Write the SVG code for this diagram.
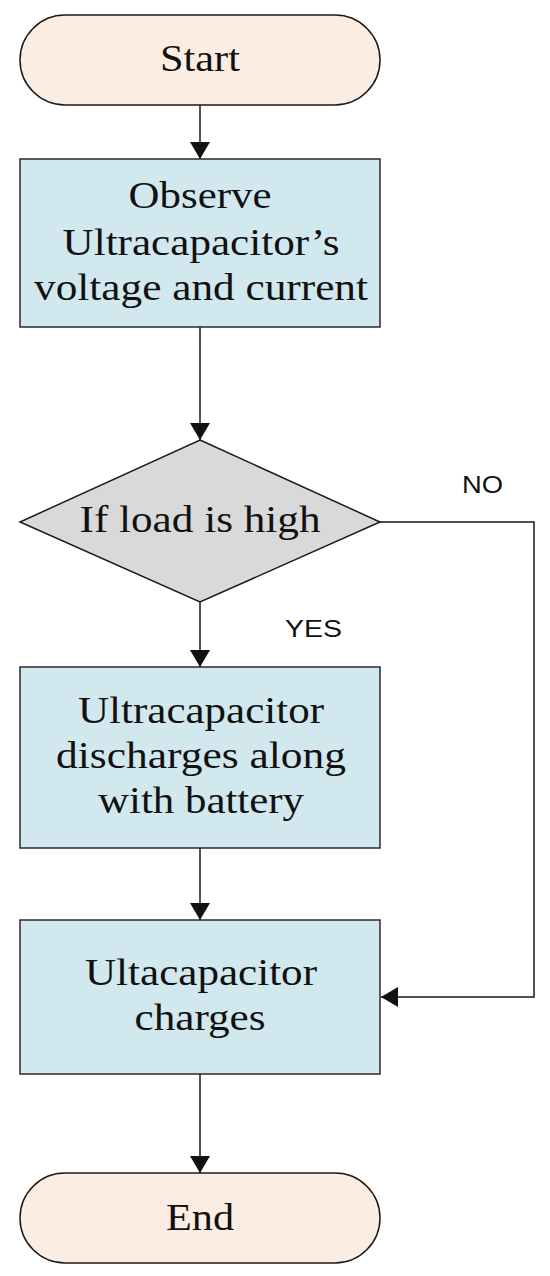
<svg xmlns="http://www.w3.org/2000/svg" width="550" height="1276" viewBox="0 0 550 1276">
<defs>
<style>
.term{fill:#fcede2;stroke:#1a1a1a;stroke-width:1.5}
.proc{fill:#d2e8ef;stroke:#2a2a2a;stroke-width:1.5}
.dec{fill:#d9d9d9;stroke:#1a1a1a;stroke-width:1.5}
.t{font-family:"Liberation Serif","Times New Roman",serif;font-size:38px;fill:#111;text-anchor:middle}
.lbl{font-family:"Liberation Sans",Arial,sans-serif;font-size:23px;fill:#111}
.c{fill:none;stroke:#1a1a1a;stroke-width:1.5}
</style>
<marker id="ah" markerUnits="userSpaceOnUse" markerWidth="20" markerHeight="20" refX="17" refY="10" orient="auto">
<path d="M0,0 L17,10 L0,20 Z" fill="#111"/>
</marker>
</defs>
<rect width="550" height="1276" fill="#fff"/>
<g id="connectors">
<line class="c" x1="200" y1="105" x2="200" y2="159" marker-end="url(#ah)"/>
<line class="c" x1="200" y1="327" x2="200" y2="440" marker-end="url(#ah)"/>
<line class="c" x1="200" y1="602" x2="200" y2="667" marker-end="url(#ah)"/>
<line class="c" x1="200" y1="848" x2="200" y2="920" marker-end="url(#ah)"/>
<line class="c" x1="200" y1="1074" x2="200" y2="1173" marker-end="url(#ah)"/>
<polyline class="c" points="380,522 534,522 534,997 381,997" marker-end="url(#ah)"/>
<text class="lbl" x="462" y="493" textLength="41" lengthAdjust="spacingAndGlyphs">NO</text>
<text class="lbl" x="285" y="637" textLength="57" lengthAdjust="spacingAndGlyphs">YES</text>
</g>
<g id="start">
<rect class="term" x="20" y="15" width="360" height="90" rx="45" ry="45"/>
<text class="t" x="200" y="71" textLength="80" lengthAdjust="spacingAndGlyphs">Start</text>
</g>
<g id="observe">
<rect class="proc" x="20" y="159" width="360" height="168"/>
<text class="t" x="200" y="208" textLength="143" lengthAdjust="spacingAndGlyphs">Observe</text>
<text class="t" x="201" y="255" textLength="277" lengthAdjust="spacingAndGlyphs">Ultracapacitor’s</text>
<text class="t" x="201" y="300" textLength="334" lengthAdjust="spacingAndGlyphs">voltage and current</text>
</g>
<g id="decision">
<polygon class="dec" points="200,440 380,522 200,602 20,522"/>
<text class="t" x="200" y="532" textLength="241" lengthAdjust="spacingAndGlyphs">If load is high</text>
</g>
<g id="discharge">
<rect class="proc" x="20" y="667" width="360" height="181"/>
<text class="t" x="201" y="723" textLength="246" lengthAdjust="spacingAndGlyphs">Ultracapacitor</text>
<text class="t" x="201" y="768" textLength="290" lengthAdjust="spacingAndGlyphs">discharges along</text>
<text class="t" x="201" y="813" textLength="206" lengthAdjust="spacingAndGlyphs">with battery</text>
</g>
<g id="charge">
<rect class="proc" x="20" y="920" width="360" height="154"/>
<text class="t" x="201" y="985" textLength="232" lengthAdjust="spacingAndGlyphs">Ultacapacitor</text>
<text class="t" x="200" y="1030" textLength="131" lengthAdjust="spacingAndGlyphs">charges</text>
</g>
<g id="end">
<rect class="term" x="20" y="1173" width="360" height="90" rx="45" ry="45"/>
<text class="t" x="200" y="1230" textLength="68" lengthAdjust="spacingAndGlyphs">End</text>
</g>
</svg>
